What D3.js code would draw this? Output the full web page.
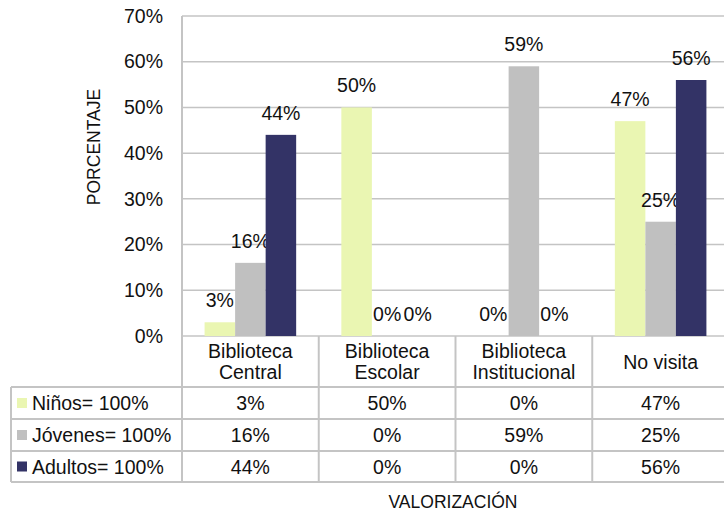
<!DOCTYPE html>
<html>
<head>
    <meta charset="utf-8">
    <title>Valorización de bibliotecas</title>
    <style>
        body { margin: 0; background: #fff; }
        text { font-family: "Liberation Sans", Arial, sans-serif; fill: #111; }
        .grid line { stroke: #c4c4c4; stroke-width: 1.5; }
        .tbl { stroke: #c4c4c4; stroke-width: 2; }
    </style>
</head>
<body>
    <svg width="724" height="515"></svg>
    <script src="https://d3js.org/d3.v7.min.js"></script>
    <script>
    // data
    var categories = [["Biblioteca", "Central"], ["Biblioteca", "Escolar"], ["Biblioteca", "Institucional"], ["No visita"]];
    var series = ["Niños= 100%", "Jóvenes= 100%", "Adultos= 100%"];
    var ninos = [3, 50, 0, 47];
    var jovenes = [16, 0, 59, 25];
    var adultos = [44, 0, 0, 56];
    var colors = ["#eaf6b2", "#c0c0c0", "#333366"];
    var yTicks = [0, 10, 20, 30, 40, 50, 60, 70];

    var values = [ninos, jovenes, adultos];
    var fs = 19.5;

    var svg = d3.select("svg"),
        plotL = 182, plotR = 729, plotT = 16, plotB = 336,
        rowH = [336, 387, 419, 451, 482];

    var x0 = d3.scaleBand().domain(d3.range(categories.length)).range([plotL, plotR]);
    var x1 = d3.scaleBand().domain(d3.range(series.length))
        .range([0, x0.bandwidth()]).paddingInner(0).paddingOuter(0.74);
    var y = d3.scaleLinear().domain([0, 70]).range([plotB, plotT]);

    // gridlines
    svg.append("g").attr("class", "grid")
      .selectAll("line").data(yTicks).join("line")
        .attr("x1", plotL).attr("x2", plotR)
        .attr("y1", function(d) { return y(d); }).attr("y2", function(d) { return y(d); });

    // y axis labels
    var yAxis = svg.append("g").attr("transform", "translate(" + (plotL - 19) + ",0)")
        .call(d3.axisLeft(y).tickValues(yTicks).tickSize(0).tickPadding(0)
            .tickFormat(function(d) { return d + "%"; }));
    yAxis.select(".domain").remove();
    yAxis.selectAll("text").attr("font-size", fs).attr("font-family", null).attr("fill", "#111");

    // bars
    var bars = svg.append("g");
    values.forEach(function(vals, s) {
      bars.selectAll(".s" + s).data(vals).join("rect")
          .attr("class", "s" + s)
          .attr("x", function(d, i) { return x0(i) + x1(s); })
          .attr("y", function(d) { return y(d); })
          .attr("width", x1.bandwidth())
          .attr("height", function(d) { return plotB - y(d); })
          .attr("fill", colors[s]);
      bars.selectAll(".l" + s).data(vals).join("text")
          .attr("class", "l" + s)
          .attr("x", function(d, i) { return x0(i) + x1(s) + x1.bandwidth() / 2; })
          .attr("y", function(d) { return y(d) - 15; })
          .attr("text-anchor", "middle")
          .attr("font-size", fs)
          .text(function(d) { return d + "%"; });
    });

    // data table lines
    var t = svg.append("g");
    rowH.slice(1).forEach(function(h) {
      t.append("line").attr("class", "tbl").attr("x1", 11).attr("x2", plotR).attr("y1", h).attr("y2", h);
    });
    t.append("line").attr("class", "tbl").attr("x1", 11).attr("x2", 11).attr("y1", rowH[1]).attr("y2", rowH[4]);
    t.append("line").attr("class", "tbl").attr("x1", plotL).attr("x2", plotL).attr("y1", plotT).attr("y2", rowH[4]);
    d3.range(1, categories.length + 1).forEach(function(i) {
      var xx = i < categories.length ? x0(i) : plotR;
      t.append("line").attr("class", "tbl").attr("x1", xx).attr("x2", xx).attr("y1", plotB).attr("y2", rowH[4]);
    });

    // category headers
    categories.forEach(function(c, i) {
      var cx = x0(i) + x0.bandwidth() / 2;
      var mid = (rowH[0] + rowH[1]) / 2;
      var txt = t.append("text").attr("text-anchor", "middle").attr("font-size", fs);
      c.forEach(function(line, k) {
        txt.append("tspan").attr("x", cx)
          .attr("y", mid + 7 + (k - (c.length - 1) / 2) * 21.5)
          .text(line);
      });
    });

    // rows
    series.forEach(function(name, s) {
      var mid = (rowH[s + 1] + rowH[s + 2]) / 2;
      t.append("rect").attr("x", 17).attr("y", mid - 5).attr("width", 10).attr("height", 10).attr("fill", colors[s]);
      t.append("text").attr("x", 32).attr("y", mid + 7).attr("font-size", fs).text(name);
      values[s].forEach(function(v, i) {
        t.append("text").attr("x", x0(i) + x0.bandwidth() / 2).attr("y", mid + 7)
          .attr("text-anchor", "middle").attr("font-size", fs).text(v + "%");
      });
    });

    // axis titles
    svg.append("text").attr("transform", "translate(100,147) rotate(-90)")
        .attr("text-anchor", "middle").attr("font-size", 17.5).text("PORCENTAJE");
    svg.append("text").attr("x", 453).attr("y", 508)
        .attr("text-anchor", "middle").attr("font-size", 17.5).text("VALORIZACIÓN");
    </script>
</body>
</html>
